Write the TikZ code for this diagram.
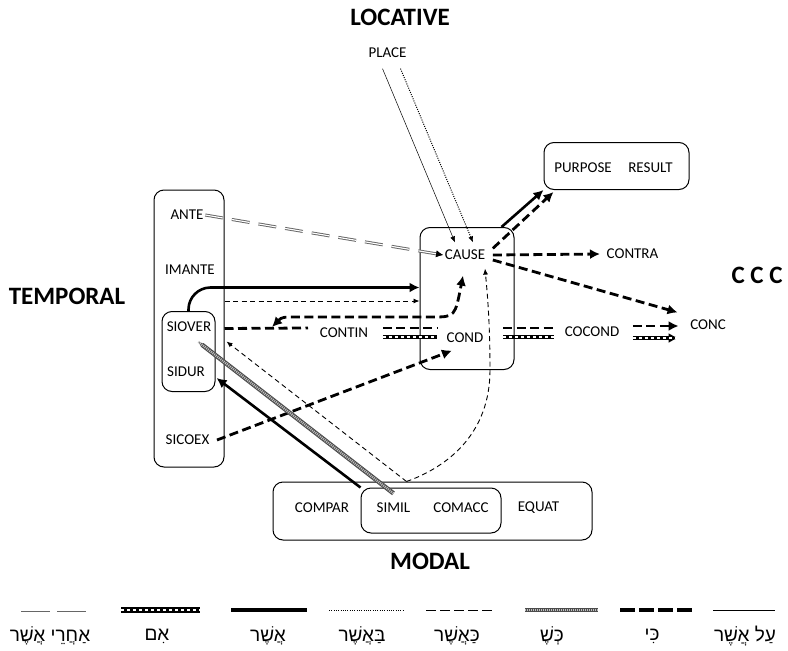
\documentclass[tikz,border=0pt]{standalone}
\usepackage{fontspec}
\setmainfont{Carlito}
\newfontfamily\hebfont[Script=Hebrew]{Liberation Sans}
\TeXXeTstate=1
\usetikzlibrary{arrows.meta}
\tikzset{
  lbl/.style={inner sep=1.5pt, font=\fontsize{15}{17}\selectfont},
  ttl/.style={inner sep=1pt, font=\bfseries\fontsize{25}{30}\selectfont},
  heb/.style={inner sep=1pt, font=\hebfont\fontsize{19}{22}\selectfont},
  grp/.style={draw, rounded corners=10pt, line width=1pt, inner sep=0pt},
  tip/.style={-{Latex[length=6pt,width=5pt]}},
  bigtip/.style={-{Latex[length=10pt,width=10pt]}},
  alsoasher/.style={draw=black!60, line width=3pt, dash pattern=#1,
    postaction={draw=white, line width=1.1pt, dash pattern=#1, arrows=-}},
  alsoasher/.default={on 18pt off 9pt},
  alsoashertip/.style={draw=black!60, line width=3pt, dash pattern=on 18pt off 9pt,
    -{Latex[length=7pt,width=7pt,color=black]},
    postaction={draw=white, line width=1.1pt, dash pattern=on 18pt off 9pt, -{Latex[length=7pt,width=7pt,color=black]}}},
  im/.style={draw=black, line width=4.5pt, postaction={draw=white, line width=1.8pt, dash pattern=on 3pt off 3pt, arrows=-}},
  asher/.style={draw=black, line width=2.6pt},
  baasher/.style={draw=black, line width=1pt, dash pattern=on 1pt off 1.3pt},
  kaasher/.style={draw=black, line width=0.9pt, dash pattern=on 5pt off 3.5pt},
  kesh/.style={draw=black!70, line width=4.5pt, postaction={draw=black!25, line width=2.4pt, dash pattern=on 1pt off 1pt, arrows=-}},
  ki/.style={draw=black, line width=2.8pt, dash pattern=on 9pt off 4.5pt},
  alasher/.style={draw=black, line width=0.5pt},
}
\begin{document}
\begin{tikzpicture}[x=1pt, y=-1pt]
    \useasboundingbox (0, 0) rectangle (788, 651);

    \node[ttl] (locative) at (400, 17) {LOCATIVE};
    \node[ttl] (temporal) at (67, 296) {TEMPORAL};
    \node[ttl] (ccc) at (757, 275) {C C C};
    \node[ttl] (modal) at (430, 561) {MODAL};

    \node[grp, minimum width=70pt, minimum height=277pt] (tempbox) at (189, 328.5) {};
    \node[grp, minimum width=53pt, minimum height=80pt] (sibox) at (188.5, 351.5) {};
    \node[grp, minimum width=94pt, minimum height=142pt] (causebox) at (467, 298.5) {};
    \node[grp, minimum width=145pt, minimum height=47pt] (purpbox) at (616.5, 166) {};
    \node[grp, minimum width=319pt, minimum height=58pt] (modbox) at (432.5, 511) {};
    \node[grp, minimum width=140pt, minimum height=45pt] (simbox) at (431, 510.5) {};

    \node[lbl] (place) at (387.5, 53) {PLACE};
    \node[lbl] (ante) at (187, 215) {ANTE};
    \node[lbl] (imante) at (190, 270) {IMANTE};
    \node[lbl] (siover) at (189, 327) {SIOVER};
    \node[lbl] (sidur) at (186, 372) {SIDUR};
    \node[lbl] (sicoex) at (187.5, 440) {SICOEX};
    \node[lbl] (cause) at (465, 255) {CAUSE};
    \node[lbl] (contin) at (344, 333) {CONTIN};
    \node[lbl] (cond) at (465, 338) {COND};
    \node[lbl] (cocond) at (592, 332) {COCOND};
    \node[lbl] (contra) at (632.5, 254) {CONTRA};
    \node[lbl] (conc) at (708, 325) {CONC};
    \node[lbl] (purpose) at (583, 168) {PURPOSE};
    \node[lbl] (result) at (650.5, 168) {RESULT};
    \node[lbl] (compar) at (322, 508) {COMPAR};
    \node[lbl] (simil) at (393.5, 508) {SIMIL};
    \node[lbl] (comacc) at (461, 508) {COMACC};
    \node[lbl] (equat) at (538.5, 508) {EQUAT};

    \coordinate (kimid) at (308, 328);
    \coordinate (kiback) at (272, 327);
    \coordinate (kibend) at (432, 317);
    \coordinate (kabend) at (490, 370);

    \draw[alsoashertip] (ante.east) -- (cause.west);
    \draw[alasher, tip] ([xshift=-5pt, yshift=-9pt]place.south) -- ([xshift=-10pt, yshift=6pt]cause.north);
    \draw[baasher, tip] ([xshift=13pt, yshift=-9pt]place.south) -- ([xshift=8pt, yshift=6pt]cause.north);
    \draw[asher, bigtip, rounded corners=22pt] (sibox.north) |- ([yshift=11pt]causebox.west);
    \draw[kaasher, tip] ([yshift=27.5pt]tempbox.east) -- ([yshift=-2.5pt]causebox.west);
    \draw[ki] (tempbox.east) -- (kimid);
    \draw[ki, {Latex[length=10pt,width=10pt]}-{Latex[length=10pt,width=10pt]}] (kiback) .. controls (282, 317) .. (300, 317) -- (kibend) .. controls (455, 317) .. ([xshift=-2pt, yshift=-14pt]cause.south);

    \draw[ki] ([xshift=13pt, yshift=5pt]contin.east) -- ([xshift=-8pt, yshift=10pt]cond.west);
    \draw[im] ([xshift=13pt, yshift=-4pt]contin.east) -- ([xshift=-8pt, yshift=1pt]cond.west);
    \draw[ki] ([xshift=18pt, yshift=10pt]cond.east) -- ([xshift=-9pt, yshift=4pt]cocond.west);
    \draw[im] ([xshift=18pt, yshift=1pt]cond.east) -- ([xshift=-9pt, yshift=-5pt]cocond.west);
    \draw[ki, bigtip] ([xshift=12pt, yshift=6pt]cocond.east) -- ([xshift=-10pt, yshift=-1pt]conc.west);
    \draw[im, bigtip] ([xshift=12pt, yshift=-6pt]cocond.east) -- ([xshift=-10pt, yshift=-13pt]conc.west);

    \draw[ki, bigtip] ([xshift=6pt]cause.east) -- ([xshift=-5pt]contra.west);
    \draw[ki, bigtip] ([xshift=6pt, yshift=-5pt]cause.east) -- ([xshift=-11pt, yshift=6pt]conc.north west);
    \draw[asher, bigtip] ([xshift=-13pt]causebox.north east) -- (purpbox.south west);
    \draw[ki, bigtip] ([xshift=6pt]cause.north east) -- ([xshift=10pt, yshift=-2pt]purpbox.south west);

    \draw[ki, bigtip] ([xshift=6pt]sicoex.east) -- ([xshift=7pt, yshift=-6pt]cond.south west);
    \draw[asher, bigtip] (simbox.north west) -- ([xshift=10pt, yshift=-6pt]sidur.east);
    \draw[kesh, tip] ([yshift=8pt]simil.north) -- ([xshift=9pt, yshift=-8pt]siover.south);
    \draw[kaasher, tip] ([xshift=-26pt]modbox.north) -- ([xshift=11pt, yshift=10pt]sibox.east);
    \draw[kaasher, tip] ([xshift=-26pt]modbox.north) .. controls (450, 466) and (490, 432) .. (kabend) .. controls (490, 320) and (487, 290) .. ([xshift=20pt, yshift=-7pt]cause.south);

    \node[heb] (h1) at (50, 636) {\beginR אַחֲרֵי אֲשֶׁר\endR};
    \node[heb] (h2) at (157, 636) {\beginR אִם\endR};
    \node[heb] (h3) at (268, 636) {\beginR אֲשֶׁר\endR};
    \node[heb] (h4) at (362, 636) {\beginR בַּאֲשֶׁר\endR};
    \node[heb] (h5) at (457, 636) {\beginR כַּאֲשֶׁר\endR};
    \node[heb] (h6) at (552, 636) {\beginR כְּשֶׁ\endR};
    \node[heb] (h7) at (652, 636) {\beginR כִּי\endR};
    \node[heb] (h8) at (745, 636) {\beginR עַל אֲשֶׁר\endR};

    \draw[alsoasher={on 29pt off 7pt}] (21, 610) -- (86, 610);
    \draw[im, line width=5.5pt] (121, 610) -- (200, 610);
    \draw[asher, line width=4pt] (231, 610) -- (307, 610);
    \draw[baasher] (329, 610) -- (403, 610);
    \draw[kaasher, dash pattern=on 9.6pt off 4.5pt] (426, 610) -- (492, 610);
    \draw[kesh] (525, 610) -- (598, 610);
    \draw[ki, line width=4.5pt, dash pattern=on 15pt off 4pt] (620, 610) -- (692, 610);
    \draw[alasher] (713, 610) -- (775, 610);
\end{tikzpicture}
\end{document}
